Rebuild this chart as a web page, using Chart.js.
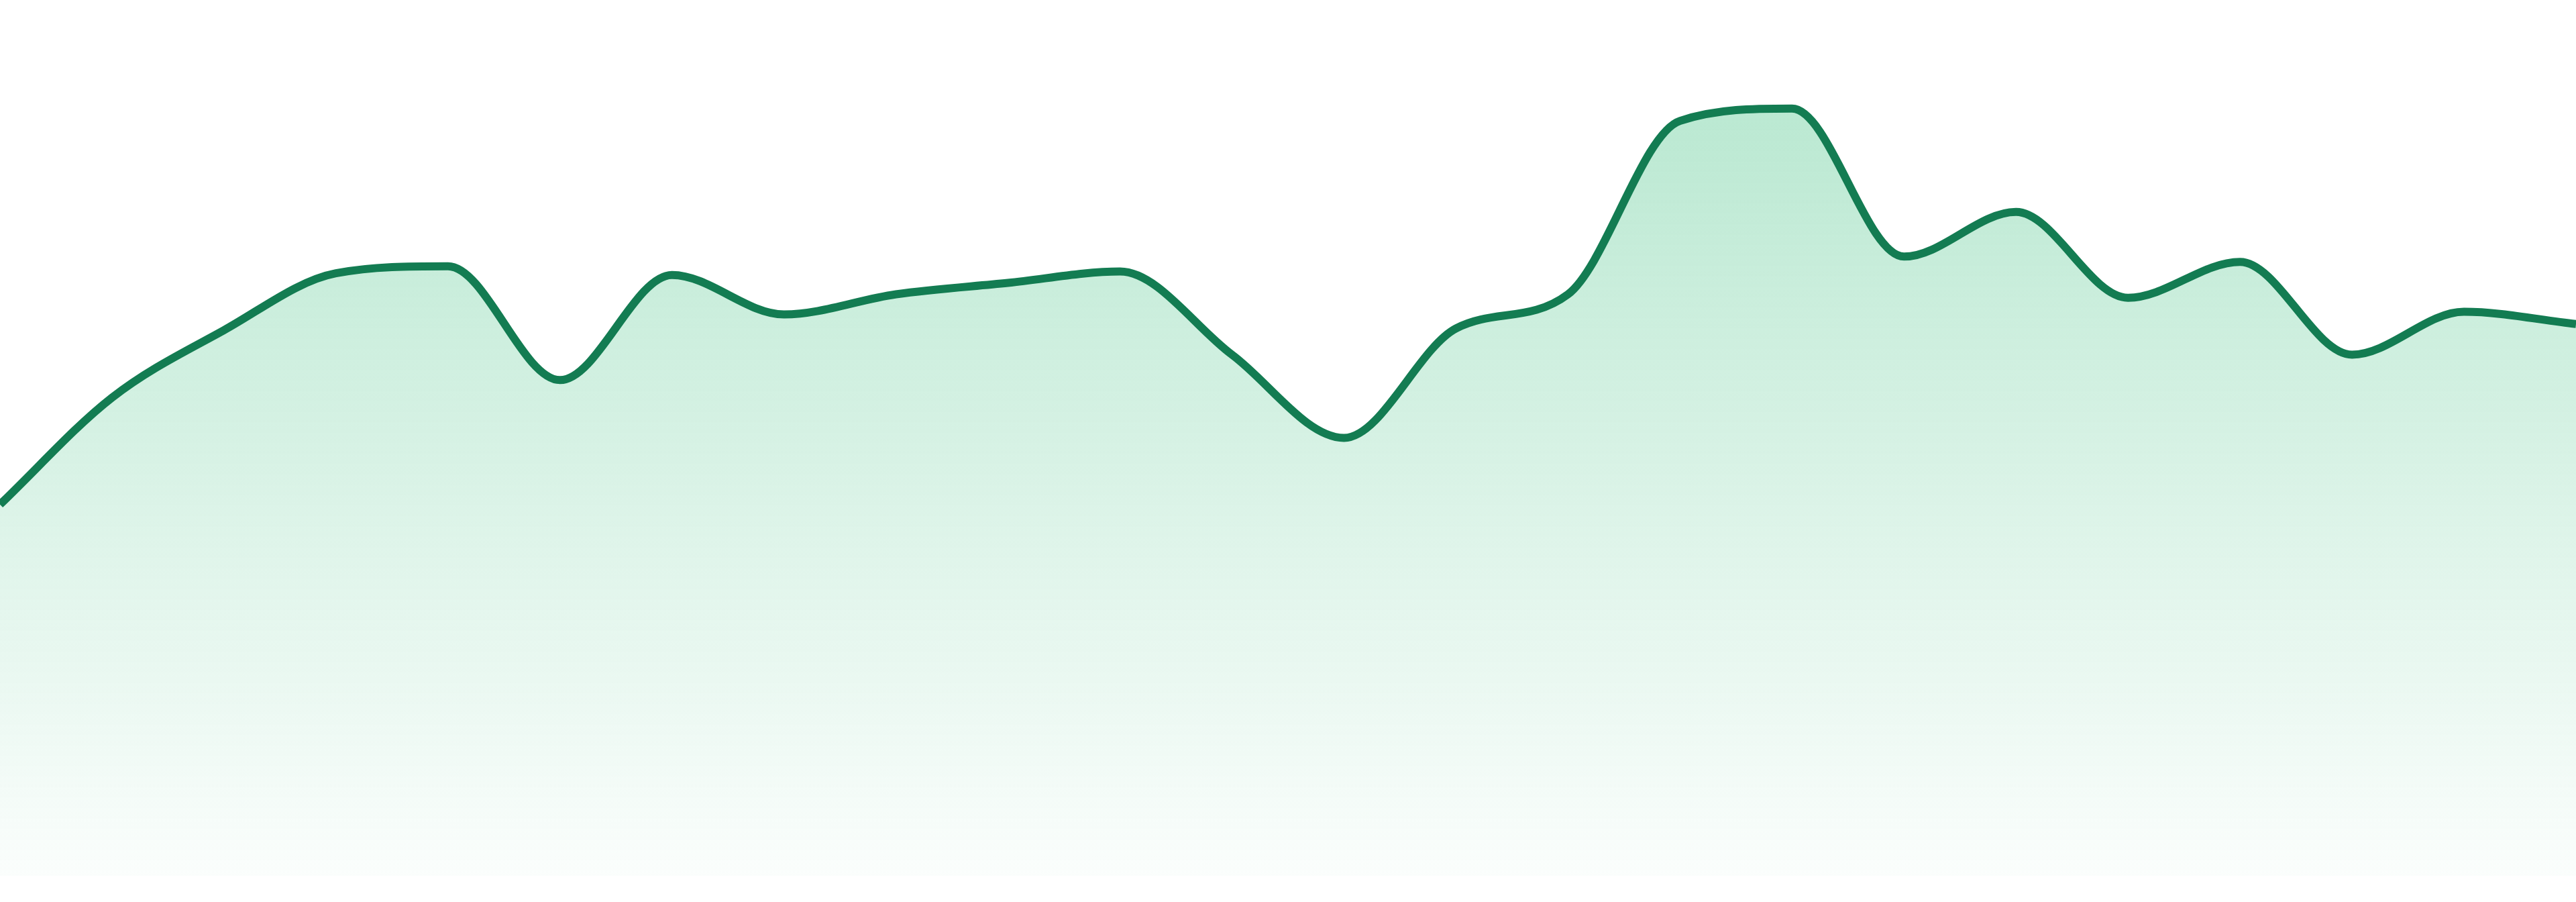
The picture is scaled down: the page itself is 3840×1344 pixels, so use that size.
<!DOCTYPE html>
<html>
<head>
<meta charset="utf-8">
<title>Area trend</title>
<script src="https://cdn.jsdelivr.net/npm/chart.js@4/dist/chart.umd.min.js"></script>
<style>
  html, body { margin: 0; padding: 0; background: #ffffff; }
  #wrap { width: 3840px; height: 1344px; position: relative; }
</style>
</head>
<body>
<div id="wrap"><canvas id="trendChart"></canvas></div>
<script>
// 24 evenly spaced samples, no visible axis labels in the source
const labels = ['1', '2', '3', '4', '5', '6', '7', '8', '9', '10', '11', '12',
  '13', '14', '15', '16', '17', '18', '19', '20', '21', '22', '23', '24'];

const values = [42.4, 54.6, 62.3, 68.8, 69.6, 56.6, 68.6, 64.1, 66.4, 67.7, 69.0, 59.5,
  50.0, 62.5, 66.4, 86.2, 87.6, 70.7, 75.8, 66.0, 70.1, 59.5, 64.4, 63.0];

const yMin = 0;
const yMax = 100;

const lineColor = '#137c52';

function areaGradient(context) {
  const chart = context.chart;
  const area = chart.chartArea;
  if (!area) return 'rgba(32,182,108,0.2)';
  const g = chart.ctx.createLinearGradient(0, area.top, 0, area.bottom);
  g.addColorStop(0, 'rgba(32,182,108,0.35)');
  g.addColorStop(1, 'rgba(32,182,108,0.02)');
  return g;
}

const ctx = document.getElementById('trendChart').getContext('2d');

const trendChart = new Chart(ctx, {
  type: 'line',
  data: {
    labels: labels,
    datasets: [{
      data: values,
      borderColor: lineColor,
      borderWidth: 12,
      backgroundColor: areaGradient,
      fill: 'start',
      cubicInterpolationMode: 'monotone',
      pointRadius: 0,
      pointHoverRadius: 0
    }]
  },
  options: {
    responsive: true,
    maintainAspectRatio: false,
    devicePixelRatio: 1,
    animation: false,
    layout: { padding: { top: 0, left: 0, right: 0, bottom: 39 } },
    plugins: {
      legend: { display: false },
      tooltip: { enabled: false }
    },
    scales: {
      x: { display: false, offset: false },
      y: { display: false, min: yMin, max: yMax }
    }
  }
});
</script>
</body>
</html>
